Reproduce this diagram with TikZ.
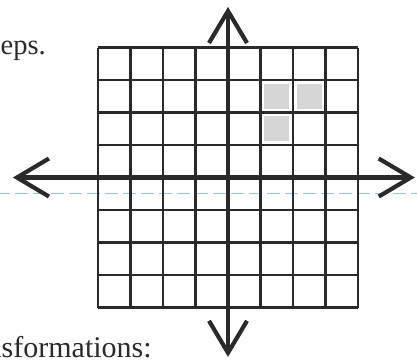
\documentclass[tikz,border=0pt]{standalone}
\usepackage{fontspec}
\setmainfont{Liberation Serif}
\usepackage{xcolor}
\definecolor{ink}{RGB}{42,42,42}
\definecolor{shade}{RGB}{214,214,214}
\definecolor{rule}{RGB}{155,193,222}
\usetikzlibrary{arrows.meta}
\tikzset{
  gridline/.style={draw=ink, line width=2.8pt, step=1},
  axisline/.style={draw=ink, line width=4.2pt,
    {Straight Barb[length=32pt,width=38pt,line width=4.2pt]}-{Straight Barb[length=32pt,width=38pt,line width=4.2pt]}},
  cellshade/.style={fill=shade},
  pagerule/.style={draw=rule, line width=1.1pt, dash pattern=on 13pt off 5pt},
  pagetext/.style={text=ink, inner sep=0pt},
}

\begin{document}
\begin{tikzpicture}[x=32.5pt,y=32.5pt]
\clip (-7.015,-5.615) rectangle (5.815,5.462);
% faint rule from the page
\coordinate (ruleW) at (-7.1,-0.48);
\coordinate (ruleE) at (5.9,-0.48);
\draw[pagerule] (ruleW) -- (ruleE);
% shaded cells
\foreach \cx/\cy in {1/2,2/2,1/1}
  \fill[cellshade] (\cx+0.12,\cy+0.12) rectangle (\cx+0.88,\cy+0.88);
% grid
\draw[gridline] (-4,-4) grid (4,4);
% axes
\coordinate (yS) at (0,-5.52);
\coordinate (yN) at (0,5.25);
\coordinate (xW) at (-6.62,0);
\coordinate (xE) at (5.75,0);
\draw[axisline] (yS) -- (yN);
\draw[axisline] (xW) -- (xE);
% text
\node[pagetext, font=\fontsize{28.5pt}{34pt}\selectfont, anchor=base west] (steps) at (-7.0,3.77) {eps.};
\node[pagetext, font=\fontsize{30pt}{36pt}\selectfont, anchor=base east] (trans) at (-2.34,-5.53) {nsformations:};
\end{tikzpicture}
\end{document}
